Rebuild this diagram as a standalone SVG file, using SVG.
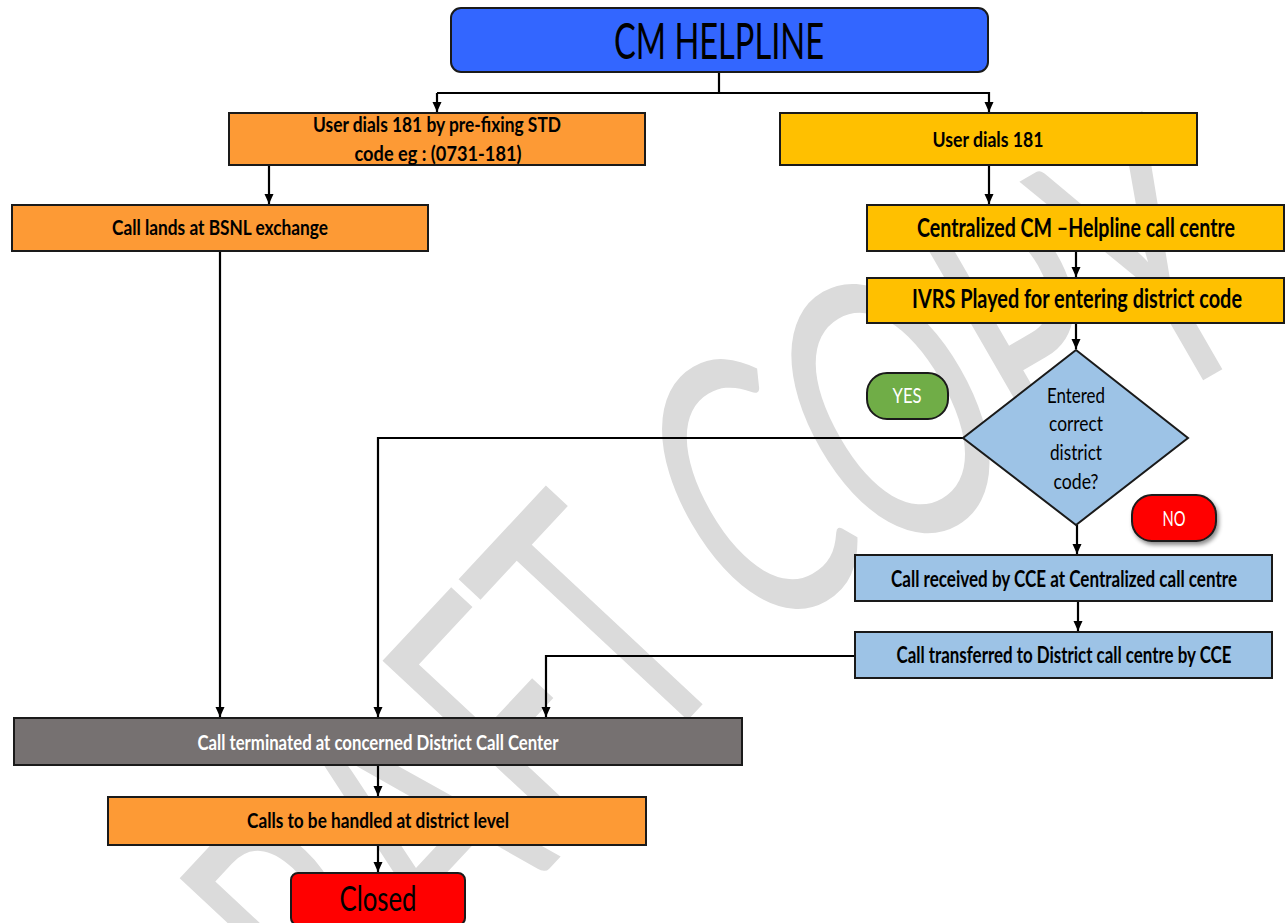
<svg xmlns="http://www.w3.org/2000/svg" width="1286" height="923" viewBox="0 0 1286 923">
<defs>
<marker id="arr" markerUnits="userSpaceOnUse" markerWidth="10" markerHeight="12" refX="10" refY="5" orient="auto"><path d="M0,0.5 L10,5 L0,9.5 z" fill="#000"/></marker>
<filter id="sh" x="-20%" y="-20%" width="150%" height="170%"><feDropShadow dx="2" dy="3" stdDeviation="2" flood-color="#000" flood-opacity="0.45"/></filter>
</defs>
<style>
.box{stroke:#1a1a1a;stroke-width:2}
.t{font-family:Lato,"Open Sans","Liberation Sans",sans-serif;text-anchor:middle;font-weight:bold;fill:#000}
.r{font-weight:normal}
.w{fill:#fff}
.c{fill:none;stroke:#000;stroke-width:2.2}
.ca{fill:none;stroke:#000;stroke-width:2.2;marker-end:url(#arr)}
.orange{fill:#fd9a35}
.yellow{fill:#ffc000}
.lblue{fill:#9dc3e6}
</style>
<rect width="1286" height="923" fill="#fff"/>
<g id="watermark" fill="#dbdbdb" font-family="Lato, 'Liberation Sans', sans-serif" font-size="368">
<text transform="translate(741,663) rotate(-47) scale(0.62,1)" text-anchor="end">DRAFT</text>
<text transform="translate(748,643) rotate(-30) scale(0.62,1)" text-anchor="start">COPY</text>
</g>
<g id="connectors">
<path class="c" d="M719,72 V93 H437"/>
<path class="ca" d="M437,93 V112"/>
<path class="ca" d="M719,93 H989 V112"/>
<path class="ca" d="M269,165 V204"/>
<path class="ca" d="M989,165 V204"/>
<path class="ca" d="M1076,251 V277"/>
<path class="ca" d="M1076,323 V349"/>
<path class="ca" d="M220,251 V717"/>
<path class="ca" d="M963,438 H378 V717"/>
<path class="ca" d="M1077,525 V554"/>
<path class="ca" d="M1078,601 V631"/>
<path class="ca" d="M855,656 H546 V717"/>
<path class="ca" d="M378,765 V796"/>
<path class="ca" d="M378,845 V872"/>
</g>
<g id="n-helpline">
<rect class="box" x="451" y="8" width="537" height="64" rx="10" fill="#3366ff"/>
<text class="t r" x="719" y="59" font-size="50" textLength="210" lengthAdjust="spacingAndGlyphs">CM HELPLINE</text>
</g>
<g id="n-std">
<rect class="box orange" x="229" y="113" width="416" height="52"/>
<text class="t" x="437" y="132" font-size="20" textLength="248" lengthAdjust="spacingAndGlyphs">User dials 181 by pre-fixing STD</text>
<text class="t" x="438" y="161" font-size="20" textLength="167" lengthAdjust="spacingAndGlyphs">code eg : (0731-181)</text>
</g>
<g id="n-dial">
<rect class="box yellow" x="780" y="113" width="417" height="52"/>
<text class="t" x="988" y="147" font-size="20" textLength="111" lengthAdjust="spacingAndGlyphs">User dials 181</text>
</g>
<g id="n-bsnl">
<rect class="box orange" x="12" y="205" width="416" height="46"/>
<text class="t" x="220" y="235" font-size="21" textLength="216" lengthAdjust="spacingAndGlyphs">Call lands at BSNL exchange</text>
</g>
<g id="n-central">
<rect class="box yellow" x="867" y="205" width="417" height="46"/>
<text class="t" x="1076" y="237" font-size="26" textLength="318" lengthAdjust="spacingAndGlyphs">Centralized CM –Helpline call centre</text>
</g>
<g id="n-ivrs">
<rect class="box yellow" x="867" y="278" width="417" height="45"/>
<text class="t" x="1077" y="308" font-size="26" textLength="330" lengthAdjust="spacingAndGlyphs">IVRS Played for entering district code</text>
</g>
<g id="n-decision">
<polygon class="box" points="1076,350 1188,438 1076,525 963,438" fill="#9dc3e6" stroke-width="1.6"/>
<text class="t r" x="1076" y="403" font-size="21" textLength="58" lengthAdjust="spacingAndGlyphs">Entered</text>
<text class="t r" x="1076" y="431" font-size="21" textLength="54" lengthAdjust="spacingAndGlyphs">correct</text>
<text class="t r" x="1076" y="460" font-size="21" textLength="52" lengthAdjust="spacingAndGlyphs">district</text>
<text class="t r" x="1076" y="489" font-size="21" textLength="45" lengthAdjust="spacingAndGlyphs">code?</text>
</g>
<g id="n-yes">
<rect class="box" x="867" y="373" width="81" height="46" rx="20" fill="#70ad47"/>
<text class="t r w" x="907" y="403" font-size="21" textLength="29" lengthAdjust="spacingAndGlyphs">YES</text>
</g>
<g id="n-no">
<rect class="box" x="1132" y="495" width="84" height="46" rx="20" fill="#ff0000" filter="url(#sh)"/>
<text class="t r w" x="1174" y="526" font-size="22" textLength="23" lengthAdjust="spacingAndGlyphs">NO</text>
</g>
<g id="n-received">
<rect class="box lblue" x="855" y="555" width="417" height="46"/>
<text class="t" x="1064" y="587" font-size="22" textLength="346" lengthAdjust="spacingAndGlyphs">Call received by CCE at Centralized call centre</text>
</g>
<g id="n-transferred">
<rect class="box lblue" x="855" y="632" width="417" height="46"/>
<text class="t" x="1064" y="663" font-size="22" textLength="335" lengthAdjust="spacingAndGlyphs">Call transferred to District call centre by CCE</text>
</g>
<g id="n-terminated">
<rect class="box" x="14" y="718" width="728" height="47" fill="#767171"/>
<text class="t w" x="378" y="750" font-size="21" textLength="361" lengthAdjust="spacingAndGlyphs">Call terminated at concerned District Call Center</text>
</g>
<g id="n-handled">
<rect class="box orange" x="108" y="797" width="538" height="48"/>
<text class="t" x="378" y="828" font-size="21" textLength="262" lengthAdjust="spacingAndGlyphs">Calls to be handled at district level</text>
</g>
<g id="n-closed">
<rect class="box" x="291" y="873" width="174" height="52" rx="7" fill="#ff0000"/>
<text class="t r" x="378" y="911" font-size="35" textLength="77" lengthAdjust="spacingAndGlyphs">Closed</text>
</g>
</svg>
